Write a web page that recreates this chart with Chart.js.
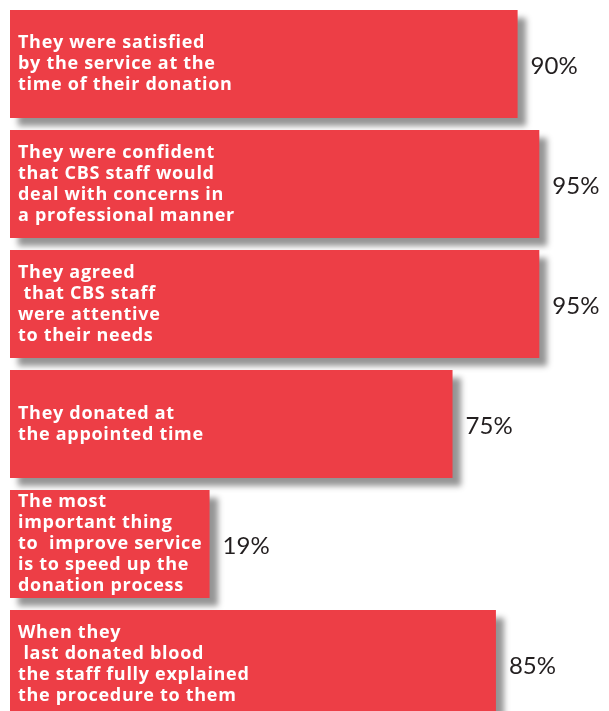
<!DOCTYPE html>
<html>
<head>
<meta charset="utf-8">
<script src="https://cdn.jsdelivr.net/npm/chart.js@4"></script>
<style>
  html, body { margin: 0; padding: 0; background: #fff; overflow: hidden; }
  #wrap { position: relative; width: 609px; height: 724px; }
</style>
</head>
<body>
<div id="wrap"><canvas id="survey"></canvas></div>
<script>
// survey statements, one array of lines per bar
const statements = [
  ['They were satisfied', 'by the service at the', 'time of their donation'],
  ['They were confident', 'that CBS staff would', 'deal with concerns in', 'a professional manner'],
  ['They agreed', ' that CBS staff', 'were attentive', 'to their needs'],
  ['They donated at', 'the appointed time'],
  ['The most', 'important thing', 'to  improve service', 'is to speed up the', 'donation process'],
  ['When they', ' last donated blood', 'the staff fully explained', 'the procedure to them']
];
const percentValues = [90, 95, 95, 75, 19, 85];
const percentLabels = ['90%', '95%', '95%', '75%', '19%', '85%'];

const barRed = '#ED3E46';
const axisStart = -27;

// soft grey drop shadow behind every bar
const barShadow = {
  id: 'barShadow',
  beforeDatasetsDraw(chart) {
    const ctx = chart.ctx;
    ctx.save();
    ctx.shadowColor = 'rgba(0, 0, 0, 0.42)';
    ctx.shadowBlur = 6;
    ctx.shadowOffsetX = 8;
    ctx.shadowOffsetY = 8;
  },
  afterDatasetsDraw(chart) {
    chart.ctx.restore();
  }
};

// white statement text inside the bar, percentage to the right of it
const barText = {
  id: 'barText',
  afterDatasetsDraw(chart) {
    const ctx = chart.ctx;
    const bars = chart.getDatasetMeta(0).data;
    ctx.save();
    bars.forEach(function (bar, i) {
      const lines = statements[i];
      const lineHeight = 21;
      const top = bar.y - (lines.length - 1) * lineHeight / 2;
      ctx.fillStyle = '#ffffff';
      ctx.font = 'bold 18px "Open Sans"';
      ctx.letterSpacing = '0.7px';
      ctx.textAlign = 'left';
      ctx.textBaseline = 'middle';
      lines.forEach(function (line, j) {
        ctx.fillText(line, bar.base + 8, top + j * lineHeight);
      });
      ctx.letterSpacing = '0px';
      ctx.fillStyle = '#231f20';
      ctx.font = '24px Lato';
      ctx.fillText(percentLabels[i], bar.x + 13, bar.y + 2);
    });
    ctx.restore();
  }
};

const ctx = document.getElementById('survey').getContext('2d');
const chart = new Chart(ctx, {
  type: 'bar',
  data: {
    labels: statements.map(function (s) { return s.join(' '); }),
    datasets: [{
      data: percentValues,
      base: axisStart,
      backgroundColor: barRed,
      borderWidth: 0,
      barPercentage: 0.9,
      categoryPercentage: 1
    }]
  },
  options: {
    indexAxis: 'y',
    responsive: true,
    maintainAspectRatio: false,
    animation: false,
    layout: {
      padding: { top: 4, bottom: 0, left: 10, right: 48 }
    },
    plugins: {
      legend: { display: false },
      tooltip: { enabled: false }
    },
    scales: {
      x: { display: false, min: axisStart, max: 100 },
      y: { display: false }
    }
  },
  plugins: [barShadow, barText]
});
</script>
</body>
</html>
